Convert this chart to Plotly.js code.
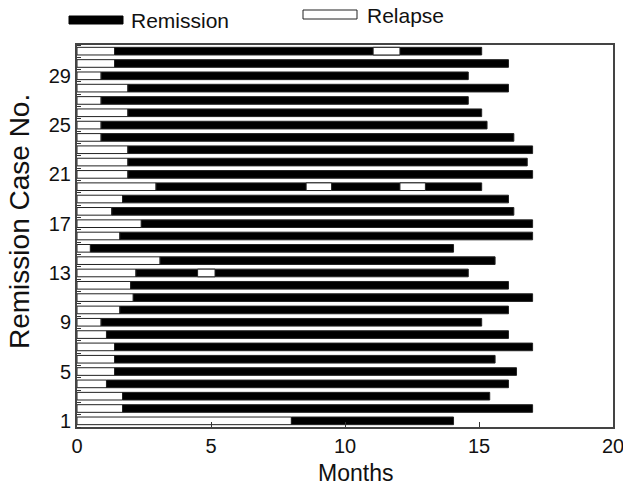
<!DOCTYPE html>
<html>
<head>
<meta charset="utf-8">
<script src="https://cdn.plot.ly/plotly-3.0.1.min.js"></script>
<style>html,body{margin:0;padding:0;background:#fff;}#chart{width:623px;height:489px;}</style>
</head>
<body>
<div id="chart"></div>
<script>
// Remission case numbers
const cases = [1,2,3,4,5,6,7,8,9,10,11,12,13,14,15,16,17,18,19,20,21,22,23,24,25,26,27,28,29,30,31];
// End of first relapse period (months), per case
const firstRelapseEnd = [8.0,1.7,1.7,1.1,1.4,1.4,1.4,1.1,0.9,1.6,2.1,2.0,2.2,3.1,0.5,1.6,2.4,1.3,1.7,2.95,1.9,1.9,1.9,0.9,0.9,1.9,0.9,1.9,0.9,1.4,1.4];
// End of follow-up (months), per case
const followUpEnd = [14.05,17.0,15.4,16.1,16.4,15.6,17.0,16.1,15.1,16.1,17.0,16.1,14.6,15.6,14.05,17.0,17.0,16.3,16.1,15.1,17.0,16.8,17.0,16.3,15.3,15.1,14.6,16.1,14.6,16.1,15.1];
// Later relapse periods inside remission
const laterRelapseCase = [13,20,20,31];
const laterRelapseStart = [4.5,8.55,12.05,11.05];
const laterRelapseEnd = [5.15,9.5,13.0,12.05];
// Axis ticks
const xTicks = [0,5,10,15,20];
const yTicks = [1,5,9,13,17,21,25,29];

const FONT = 'Liberation Sans, Arial, Helvetica, sans-serif';
const lineStyle = {color:'#222', width:1};

const relapseFirst = {
  type:'bar', orientation:'h', y:cases, x:firstRelapseEnd, base:cases.map(()=>0),
  width:0.62, marker:{color:'#ffffff', line:lineStyle}, name:'Relapse', showlegend:false, hoverinfo:'skip'
};
const remission = {
  type:'bar', orientation:'h', y:cases,
  x:followUpEnd.map((e,i)=>e-firstRelapseEnd[i]), base:firstRelapseEnd,
  width:0.62, marker:{color:'#000000', line:lineStyle}, name:'Remission', showlegend:false, hoverinfo:'skip'
};
const relapseLater = {
  type:'bar', orientation:'h', y:laterRelapseCase,
  x:laterRelapseEnd.map((e,i)=>e-laterRelapseStart[i]), base:laterRelapseStart,
  width:0.62, marker:{color:'#ffffff', line:lineStyle}, name:'Relapse', showlegend:false, hoverinfo:'skip'
};

// pixel -> paper helpers for legend and titles
const L=77, R=613, T=45, B=427;
const px = v => (v-L)/(R-L);
const py = v => (B-v)/(B-T);

const layout = {
  width:623, height:489,
  margin:{l:L, r:623-R, t:T, b:489-B, pad:0},
  paper_bgcolor:'#fff', plot_bgcolor:'#fff',
  barmode:'overlay', bargap:0,
  showlegend:false,
  font:{family:FONT, color:'#111', size:20},
  xaxis:{
    range:[0,20], tickmode:'array', tickvals:xTicks, ticktext:xTicks.map(String),
    ticks:'inside', ticklen:5, tickcolor:'#333', tickwidth:1,
    ticklabeloverflow:'allow',
    showline:true, mirror:true, linecolor:'#444', linewidth:2,
    showgrid:false, zeroline:false,
    tickfont:{family:FONT, size:20, color:'#111'}
  },
  yaxis:{
    range:[0.5,31.5], tickmode:'array', tickvals:yTicks, ticktext:yTicks.map(String),
    ticks:'', ticklen:0,
    minor:{ticks:'inside', tick0:0.5, dtick:1, ticklen:4, tickcolor:'#333', tickwidth:1, showgrid:false},
    showline:true, mirror:true, linecolor:'#444', linewidth:2,
    showgrid:false, zeroline:false,
    tickfont:{family:FONT, size:20, color:'#111'}
  },
  shapes:[
    {type:'rect', xref:'paper', yref:'paper', x0:px(69), x1:px(123), y0:py(24), y1:py(16),
     fillcolor:'#000', line:{color:'#000', width:1}},
    {type:'rect', xref:'paper', yref:'paper', x0:px(303), x1:px(357), y0:py(19), y1:py(10),
     fillcolor:'#fff', line:{color:'#222', width:1}}
  ],
  annotations:[
    {xref:'paper', yref:'paper', x:px(129), y:py(21), xanchor:'left', yanchor:'middle',
     text:'Remission', showarrow:false, font:{family:FONT, size:21, color:'#111'}},
    {xref:'paper', yref:'paper', x:px(365), y:py(15), xanchor:'left', yanchor:'middle',
     text:'Relapse', showarrow:false, font:{family:FONT, size:21, color:'#111'}},
    {xref:'paper', yref:'paper', x:px(355), y:py(473), xanchor:'center', yanchor:'middle',
     text:'Months', showarrow:false, font:{family:FONT, size:23, color:'#111'}},
    {xref:'paper', yref:'paper', x:px(19), y:py(222), xanchor:'center', yanchor:'middle', textangle:-90,
     text:'Remission Case No.', showarrow:false, font:{family:FONT, size:28, color:'#111'}}
  ]
};

Plotly.newPlot('chart', [relapseFirst, remission, relapseLater], layout, {displayModeBar:false, staticPlot:true});
</script>
</body>
</html>
